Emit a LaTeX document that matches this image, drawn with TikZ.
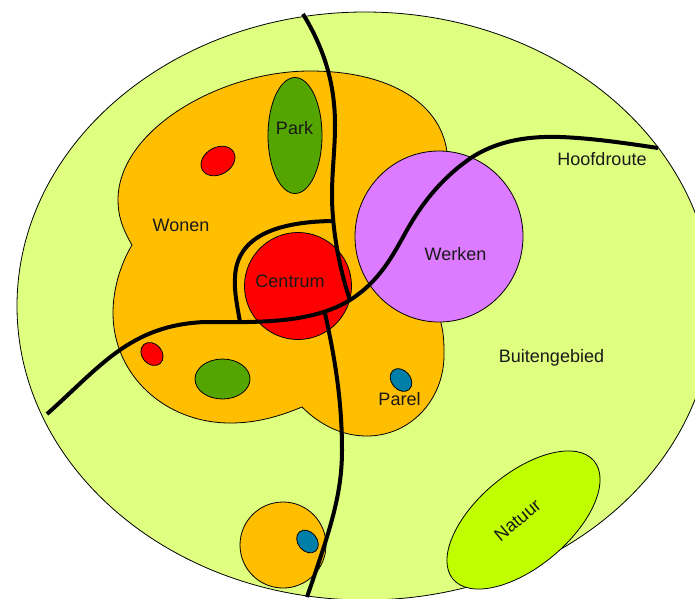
\documentclass[tikz,border=0pt]{standalone}
\usepackage{fontspec}
\setmainfont{Liberation Sans}
\definecolor{buiten}{HTML}{DFFF80}
\definecolor{wonen}{HTML}{FFBF00}
\definecolor{parkgreen}{HTML}{55A500}
\definecolor{centrumred}{HTML}{FF0000}
\definecolor{werken}{HTML}{DC7BFF}
\definecolor{parel}{HTML}{0080A8}
\definecolor{natuur}{HTML}{BFFF00}
\tikzset{
  area/.style={draw=black,line width=0.8pt},
  road/.style={draw=black,line width=4pt,line join=round},
  lbl/.style={font=\fontsize{18}{20}\selectfont,text=black!90,inner sep=0pt}
}
\begin{document}
\begin{tikzpicture}[x=1pt,y=-1pt]
\useasboundingbox (0,0) rectangle (695,598);
\clip (0,0) rectangle (695,598);
\fill[white] (0,0) rectangle (695,598);
\draw[area,fill=buiten] (365,306) ellipse [x radius=348,y radius=294];
% Wonen
\draw[area,fill=wonen] (132,245)
  .. controls (122,228) and (118,215) .. (118,200)
  .. controls (118,130) and (220,71) .. (310,71)
  .. controls (385,71) and (440,100) .. (447,152)
  -- (441,323)
  .. controls (444,335) and (444,345) .. (444,355)
  .. controls (444,400) and (410,436) .. (367,436)
  .. controls (342,436) and (320,425) .. (302,407)
  .. controls (280,416) and (258,423) .. (230,423)
  .. controls (165,423) and (113,375) .. (113,313)
  .. controls (113,290) and (120,265) .. (132,245) -- cycle;
\draw[area,fill=wonen] (283,545) circle [radius=43];
\draw[area,fill=parkgreen] (295,135.5) ellipse [x radius=27,y radius=58];
\draw[area,fill=parkgreen] (222.5,379) ellipse [x radius=27.5,y radius=20];
\draw[area,fill=centrumred,rotate around={30:(218,161)}] (218,161) ellipse [x radius=18,y radius=13.5];
\draw[area,fill=centrumred,rotate around={-50:(152,354)}] (152,354) ellipse [x radius=12.5,y radius=10];
\draw[area,fill=parel,rotate around={-50:(401,380)}] (401,380) ellipse [x radius=12.5,y radius=9.5];
\draw[area,fill=parel,rotate around={-50:(307.5,541.5)}] (307.5,541.5) ellipse [x radius=12.5,y radius=9.5];
\draw[area,fill=centrumred] (298,286) circle [radius=53.5];
\draw[area,fill=werken] (439,236.5) ellipse [x radius=84,y radius=85.5];
\draw[area,fill=natuur,rotate around={40:(523.5,520)}] (523.5,520) ellipse [x radius=92,y radius=46.5];
% Roads
\coordinate (j1) at (240,322);
\coordinate (j2) at (325,313);
\coordinate (j3) at (332,221);
\coordinate (j4) at (350,300);
\draw[road] (303,14) .. controls (325,50) and (335,85) .. (335,125)
  .. controls (335,150) and (332,170) .. (332,195)
  .. controls (332,225) and (338,265) .. (j4);
\draw[road] (47,414) .. controls (100,367) and (130,325) .. (205,322)
  .. controls (250,322) and (310,325) .. (j4)
  .. controls (380,281) and (393,255) .. (407,230)
  .. controls (421,205) and (440,180) .. (468,160)
  .. controls (496,140) and (530,136) .. (560,137)
  .. controls (590,138) and (625,143) .. (658,148);
\draw[road] (j1) .. controls (237,305) and (234,290) .. (235,278)
  .. controls (236,240) and (270,222) .. (j3);
\draw[road] (j2) .. controls (333,350) and (342,395) .. (342,450)
  .. controls (342,495) and (330,530) .. (307,597);
% Labels
\node[lbl] (hoofdroute) at (602,159) {Hoofdroute};
\node[lbl] (wonenlbl) at (181,225) {Wonen};
\node[lbl] (park) at (294.5,128.5) {Park};
\node[lbl] (centrum) at (290,281) {Centrum};
\node[lbl] (werk) at (455.5,254) {Werken};
\node[lbl] (buiten) at (551.5,358) {Buitengebied};
\node[lbl] (parellbl) at (399.5,399) {Parel};
\node[lbl,rotate=40] (natuurlbl) at (517.5,520) {Natuur};
\end{tikzpicture}
\end{document}
